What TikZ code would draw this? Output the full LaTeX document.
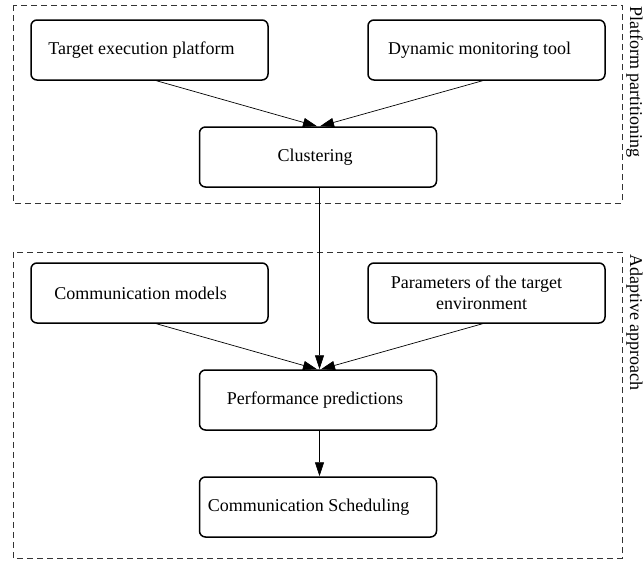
\documentclass[tikz,border=0pt]{standalone}
\usepackage{fontspec}
\setmainfont{Liberation Serif}
\usetikzlibrary{arrows.meta}
\begin{document}
\begin{tikzpicture}[x=1pt,y=-1pt,
  box/.style={draw,line width=1.5pt,rounded corners=6pt,minimum width=237pt,minimum height=60pt,align=center,font=\fontsize{18}{21}\selectfont,inner sep=0pt},
  grp/.style={draw=black!80,line width=0.7pt,dash pattern=on 6pt off 4pt},
  conn/.style={line width=0.7pt,-{Triangle[length=14pt,width=9pt]}},
  side/.style={rotate=-90,anchor=base west,font=\fontsize{18}{21}\selectfont,inner sep=0pt}
]
\useasboundingbox (0,0) rectangle (643,560);
\draw[grp] (13,5) rectangle (622,203);
\draw[grp] (13,252) rectangle (622,558);
\node[side] (lp) at (630,6) {Platform partitioning};
\node[side] (la) at (630,254) {Adaptive approach};
\node[box] (tep) at (149.5,50) {Target execution platform\hspace*{16pt}};
\node[box] (dmt) at (486.5,50) {Dynamic monitoring tool\hspace*{14pt}};
\node[box] (clu) at (318,157) {Clustering\hspace*{6pt}};
\node[box] (cm) at (149.5,293) {Communication models\hspace*{18pt}};
\node[box] (par) at (486.5,293) {Parameters of the target\hspace*{20pt}\\environment\hspace*{10pt}};
\node[box] (pp) at (318,400) {Performance predictions\hspace*{6pt}};
\node[box] (cs) at (318,507) {Communication Scheduling\hspace*{19pt}};
\draw[conn] ([xshift=7pt]tep.south) -- ([xshift=-1pt]clu.north);
\draw[conn] ([xshift=-4pt]dmt.south) -- ([xshift=2pt]clu.north);
\draw[conn] ([xshift=1.5pt]clu.south) -- ([xshift=1.5pt]pp.north);
\draw[conn] ([xshift=7pt]cm.south) -- ([xshift=-1pt]pp.north);
\draw[conn] ([xshift=-4pt]par.south) -- ([xshift=3pt]pp.north);
\draw[conn] ([xshift=1.5pt]pp.south) -- ([xshift=1.5pt]cs.north);
\end{tikzpicture}
\end{document}
